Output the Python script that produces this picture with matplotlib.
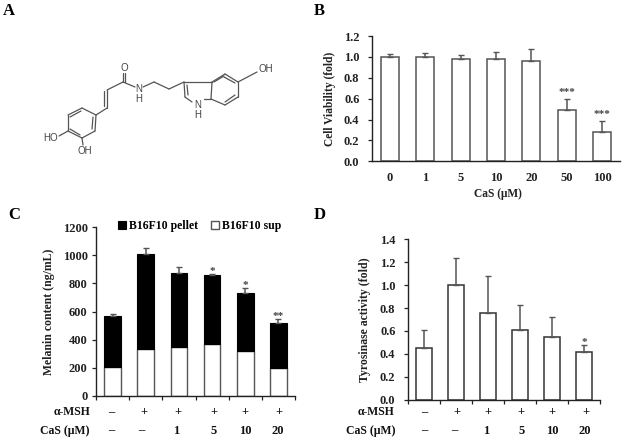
import matplotlib
matplotlib.use("Agg")
import matplotlib.pyplot as plt
import numpy as np

W, H = 624, 444
plt.rcParams['font.family'] = ['Liberation Serif', 'DejaVu Serif']
plt.rcParams['font.weight'] = 'bold'
plt.rcParams['axes.labelweight'] = 'bold'

# Panel B
b_cats = ['0', '1', '5', '10', '20', '50', '100']
b_vals = [1.0, 1.0, 0.98, 0.98, 0.96, 0.49, 0.28]
b_tops = [1.03, 1.04, 1.015, 1.05, 1.08, 0.60, 0.385]
b_sig = ['', '', '', '', '', '***', '***']

# Panel C
c_sup = [205, 330, 350, 365, 315, 200]
c_total = [568, 1010, 875, 858, 735, 520]
c_tops = [585, 1050, 920, 865, 765, 545]
c_sig = ['', '', '', '*', '*', '**']

# Panel D
d_vals = [0.45, 1.0, 0.76, 0.61, 0.545, 0.415]
d_tops = [0.605, 1.24, 1.08, 0.83, 0.72, 0.475]
d_sig = ['', '', '', '', '', '*']

msh_row = ['–', '+', '+', '+', '+', '+']
cas_row = ['–', '–', '1', '5', '10', '20']
c_msh_px = [111, 144, 178, 214, 245, 279]
c_cas_px = [111, 141, 176, 214, 245, 278]
d_msh_px = [424, 457, 488, 521, 552, 586]
d_cas_px = [424, 454, 486, 522, 552, 585]

fig = plt.figure(figsize=(W / 100, H / 100), dpi=100, facecolor='white')

def make_ax(x0, x1, ytop, ybot, pad, ylab_px):
    ax = fig.add_axes([x0 / W, 1 - ybot / H, (x1 - x0) / W, (ybot - ytop) / H])
    ax.patch.set_alpha(0)
    for s in ('top', 'right'):
        ax.spines[s].set_visible(False)
    for s in ('left', 'bottom'):
        ax.spines[s].set_linewidth(1.0)
        ax.spines[s].set_color('#222222')
    ax.tick_params(axis='y', length=3, width=0.9, labelsize=9, pad=pad, color='#222222',
                   labelcolor='#222222')
    ax.yaxis.set_label_coords((ylab_px - x0) / (x1 - x0), 0.5)
    return ax

EDGE = '#555555'

# ---- B
axb = make_ax(372, 620, 36, 161.3, 6, 336)
xb = np.arange(len(b_cats))
axb.bar(xb, b_vals, width=0.51, color='white', edgecolor=EDGE, linewidth=1.1)
axb.errorbar(xb, b_vals, yerr=[np.zeros(7), np.array(b_tops) - np.array(b_vals)],
             fmt='none', ecolor=EDGE, elinewidth=1.1, capsize=2, capthick=1.0)
for x, t, s in zip(xb, b_tops, b_sig):
    if s:
        axb.text(x, t + 0.02, s, ha='center', va='bottom', fontsize=8, color='#444444')
axb.set_xlim(-0.5, 6.5)
axb.set_ylim(0, 1.2)
axb.set_yticks(np.arange(0, 1.21, 0.2))
axb.set_yticklabels([f'{v:.1f}' for v in np.arange(0, 1.21, 0.2)])
axb.set_xticks(xb)
axb.set_xticklabels(b_cats, fontsize=9, color='#222222')
axb.tick_params(axis='x', length=0, pad=8)
axb.set_xlabel('CaS (μM)', fontsize=8.3, color='#222222')
axb.xaxis.set_label_coords(0.508, -0.21)
axb.set_ylabel('Cell Viability (fold)', fontsize=8.3, color='#222222')

# ---- C
axc = make_ax(96, 295, 227.3, 395.7, 3, 55)
xc = np.arange(6)
pellet = np.array(c_total) - np.array(c_sup)
axc.bar(xc, c_sup, width=0.5, color='white', edgecolor=EDGE, linewidth=1.0, label='B16F10 sup')
axc.bar(xc, pellet, bottom=c_sup, width=0.5, color='black', edgecolor='black', linewidth=0.8,
        label='B16F10 pellet')
axc.errorbar(xc, c_total, yerr=[np.zeros(6), np.array(c_tops) - np.array(c_total)],
             fmt='none', ecolor=EDGE, elinewidth=1.1, capsize=2, capthick=1.0)
for x, t, s in zip(xc, c_tops, c_sig):
    if s:
        axc.text(x, t - 15, s, ha='center', va='bottom', fontsize=8, color='#444444')
axc.set_xlim(-0.5, 5.5)
axc.set_ylim(0, 1200)
axc.set_yticks(np.arange(0, 1201, 200))
axc.set_xticks(np.arange(-0.5, 5.6, 1))
axc.set_xticklabels([])
axc.tick_params(axis='x', length=3, width=0.9, direction='out', color='#222222')
axc.set_ylabel('Melanin content (ng/mL)', fontsize=8.5, color='#222222')
h, l = axc.get_legend_handles_labels()
axc.legend(h[::-1], l[::-1], ncol=2, frameon=False, fontsize=8.5, loc='center left',
           bbox_to_anchor=(0.11, 1.005), handlelength=0.7, handleheight=0.7, handletextpad=0.25,
           columnspacing=1.1, borderpad=0, borderaxespad=0)

# ---- D
axd = make_ax(408, 600, 239.3, 399.7, 6, 371)
xd = np.arange(6)
axd.bar(xd, d_vals, width=0.5, color='white', edgecolor='#333333', linewidth=1.1)
axd.errorbar(xd, d_vals, yerr=[np.zeros(6), np.array(d_tops) - np.array(d_vals)],
             fmt='none', ecolor=EDGE, elinewidth=1.1, capsize=2, capthick=1.0)
for x, t, s in zip(xd, d_tops, d_sig):
    if s:
        axd.text(x, t - 0.015, s, ha='center', va='bottom', fontsize=8, color='#444444')
axd.set_xlim(-0.5, 5.5)
axd.set_ylim(0, 1.4)
axd.set_yticks(np.arange(0, 1.41, 0.2))
axd.set_yticklabels([f'{v:.1f}' for v in np.arange(0, 1.41, 0.2)])
axd.set_xticks(np.arange(-0.5, 5.6, 1))
axd.set_xticklabels([])
axd.tick_params(axis='x', length=3, width=0.9, direction='out', color='#222222')
axd.set_ylabel('Tyrosinase activity (fold)', fontsize=8.5, color='#222222')

# ---- overlay in image pixels: panel letters, row labels, structure
ov = fig.add_axes([0, 0, 1, 1])
ov.set_xlim(0, W)
ov.set_ylim(H, 0)
ov.axis('off')
ov.patch.set_alpha(0)

for lab, x, y in [('A', 3, 11), ('B', 314, 11), ('C', 8, 215), ('D', 314, 215)]:
    ov.text(x, y, lab, fontsize=12, ha='left', va='center', color='black')

def rows(msh_px, cas_px, right, y1, y2):
    ov.text(right, y1, 'α-MSH', fontsize=8.5, ha='right', va='center', color='#111111')
    ov.text(right, y2, 'CaS (μM)', fontsize=8.5, ha='right', va='center', color='#111111')
    for x, s in zip(msh_px, msh_row):
        ov.text(x, y1, s, fontsize=9, ha='center', va='center', color='#111111')
    for x, s in zip(cas_px, cas_row):
        ov.text(x, y2, s, fontsize=9, ha='center', va='center', color='#111111')

rows(c_msh_px, c_cas_px, 90, 412, 430.5)
rows(d_msh_px, d_cas_px, 395, 412, 430.5)

# chemical structure (bond segments in image pixels)
bonds = [
    ((82, 108), (96, 115)), ((96, 115), (95, 131)), ((95, 131), (82, 138)),
    ((82, 138), (68, 131)), ((68, 131), (68, 115)), ((68, 115), (82, 108)),
    ((81, 111), (70, 117)), ((93, 117), (92, 129)), ((80, 135), (70, 129)),
    ((96, 115), (107, 108)), ((107, 108), (107, 90)), ((104, 106), (104, 91)),
    ((107, 90), (123, 82)), ((123, 82), (123, 73)), ((125, 82), (125, 73)),
    ((123, 82), (135, 87)), ((143, 87), (154, 82)), ((154, 82), (169, 89)),
    ((169, 89), (184, 82)), ((184, 82), (185, 97)), ((185, 97), (192, 102)),
    ((204, 99), (211, 99)), ((211, 99), (212, 82)), ((212, 82), (184, 82)),
    ((187, 85), (188, 95)), ((212, 82), (225, 74)), ((225, 74), (238, 82)),
    ((238, 82), (238, 97)), ((238, 97), (225, 105)), ((225, 105), (211, 99)),
    ((224, 77), (235, 83)), ((235, 95), (225, 102)), ((214, 82), (224, 76)),
    ((238, 82), (257, 72)), ((68, 131), (59, 136)), ((82, 138), (83, 145)),
]
for (x0, y0), (x1, y1) in bonds:
    ov.plot([x0, x1], [y0, y1], color='#555555', lw=0.9, solid_capstyle='round')
atoms = [('O', 124, 68), ('N', 139, 89), ('H', 139, 99), ('N', 198, 105), ('H', 198, 115),
         ('OH', 266, 69), ('HO', 51, 138), ('OH', 85, 151)]
for s, x, y in atoms:
    ov.text(x, y, s, fontsize=7, fontweight='normal', family=['Liberation Sans'],
            ha='center', va='center', color='#444444')

fig.savefig('out.png', dpi=100, facecolor='white')
